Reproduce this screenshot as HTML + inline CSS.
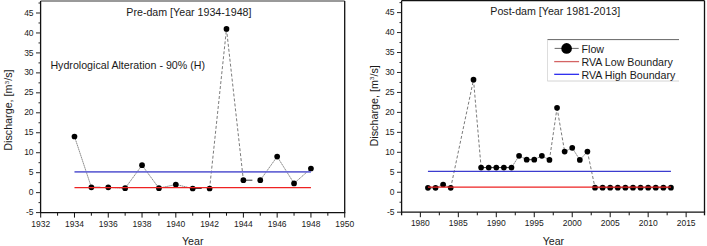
<!DOCTYPE html>
<html><head><meta charset="utf-8"><style>
html,body{margin:0;padding:0;background:#fff;}
svg{display:block;}
text{font-family:"Liberation Sans",sans-serif;fill:#1a1a1a;}
</style></head><body>
<svg width="707" height="246" viewBox="0 0 707 246">
<rect x="0" y="0" width="707" height="246" fill="#fff"/>
<line x1="74.48" y1="136.50" x2="91.37" y2="187.30" stroke="#3a3a3a" stroke-width="0.6" stroke-dasharray="1.6,0.5"/>
<line x1="91.37" y1="187.30" x2="108.26" y2="187.30" stroke="#111" stroke-width="0.85" stroke-dasharray="9,20"/>
<line x1="108.26" y1="187.30" x2="125.15" y2="188.20" stroke="#3a3a3a" stroke-width="0.6" stroke-dasharray="1.6,0.5"/>
<line x1="125.15" y1="188.20" x2="142.04" y2="165.20" stroke="#3a3a3a" stroke-width="0.6" stroke-dasharray="1.6,0.5"/>
<line x1="142.04" y1="165.20" x2="158.93" y2="188.20" stroke="#3a3a3a" stroke-width="0.6" stroke-dasharray="1.6,0.5"/>
<line x1="158.93" y1="188.20" x2="175.82" y2="184.50" stroke="#3a3a3a" stroke-width="0.6" stroke-dasharray="1.6,0.5"/>
<line x1="175.82" y1="184.50" x2="192.71" y2="188.50" stroke="#3a3a3a" stroke-width="0.6" stroke-dasharray="1.6,0.5"/>
<line x1="192.71" y1="188.50" x2="209.60" y2="188.50" stroke="#111" stroke-width="0.85" stroke-dasharray="9,20"/>
<line x1="209.60" y1="188.50" x2="226.49" y2="28.90" stroke="#333" stroke-width="0.65" stroke-dasharray="3,2"/>
<line x1="226.49" y1="28.90" x2="243.38" y2="180.20" stroke="#333" stroke-width="0.65" stroke-dasharray="3,2"/>
<line x1="243.38" y1="180.20" x2="260.27" y2="180.20" stroke="#111" stroke-width="0.85" stroke-dasharray="9,20"/>
<line x1="260.27" y1="180.20" x2="277.16" y2="156.60" stroke="#3a3a3a" stroke-width="0.6" stroke-dasharray="1.6,0.5"/>
<line x1="277.16" y1="156.60" x2="294.05" y2="183.40" stroke="#3a3a3a" stroke-width="0.6" stroke-dasharray="1.6,0.5"/>
<line x1="294.05" y1="183.40" x2="310.94" y2="168.50" stroke="#3a3a3a" stroke-width="0.6" stroke-dasharray="1.6,0.5"/>
<circle cx="74.48" cy="136.50" r="2.85" fill="#000"/>
<circle cx="91.37" cy="187.30" r="2.85" fill="#000"/>
<circle cx="108.26" cy="187.30" r="2.85" fill="#000"/>
<circle cx="125.15" cy="188.20" r="2.85" fill="#000"/>
<circle cx="142.04" cy="165.20" r="2.85" fill="#000"/>
<circle cx="158.93" cy="188.20" r="2.85" fill="#000"/>
<circle cx="175.82" cy="184.50" r="2.85" fill="#000"/>
<circle cx="192.71" cy="188.50" r="2.85" fill="#000"/>
<circle cx="209.60" cy="188.50" r="2.85" fill="#000"/>
<circle cx="226.49" cy="28.90" r="2.85" fill="#000"/>
<circle cx="243.38" cy="180.20" r="2.85" fill="#000"/>
<circle cx="260.27" cy="180.20" r="2.85" fill="#000"/>
<circle cx="277.16" cy="156.60" r="2.85" fill="#000"/>
<circle cx="294.05" cy="183.40" r="2.85" fill="#000"/>
<circle cx="310.94" cy="168.50" r="2.85" fill="#000"/>
<line x1="74.48" y1="171.9" x2="310.94" y2="171.9" stroke="#6a6ad6" stroke-width="1.6"/>
<line x1="74.48" y1="187.7" x2="310.94" y2="187.7" stroke="#ee2222" stroke-width="1.3"/>
<line x1="40.6" y1="1.024000000000001" x2="344.7" y2="1.024000000000001" stroke="#777" stroke-width="1.3"/>
<line x1="40.6" y1="1.024000000000001" x2="40.6" y2="212.6" stroke="#111" stroke-width="1.3"/>
<line x1="344.7" y1="1.024000000000001" x2="344.7" y2="212.6" stroke="#111" stroke-width="1.3"/>
<line x1="39.95" y1="212.6" x2="345.34999999999997" y2="212.6" stroke="#111" stroke-width="1.3"/>
<line x1="36.00" y1="212.60" x2="40.60" y2="212.60" stroke="#1a1a1a" stroke-width="0.95"/>
<text x="33.60" y="215.20" text-anchor="end" font-size="8.5">-5</text>
<line x1="36.00" y1="192.64" x2="40.60" y2="192.64" stroke="#1a1a1a" stroke-width="0.95"/>
<text x="33.60" y="195.24" text-anchor="end" font-size="8.5">0</text>
<line x1="36.00" y1="172.68" x2="40.60" y2="172.68" stroke="#1a1a1a" stroke-width="0.95"/>
<text x="33.60" y="175.28" text-anchor="end" font-size="8.5">5</text>
<line x1="36.00" y1="152.72" x2="40.60" y2="152.72" stroke="#1a1a1a" stroke-width="0.95"/>
<text x="33.60" y="155.32" text-anchor="end" font-size="8.5">10</text>
<line x1="36.00" y1="132.76" x2="40.60" y2="132.76" stroke="#1a1a1a" stroke-width="0.95"/>
<text x="33.60" y="135.36" text-anchor="end" font-size="8.5">15</text>
<line x1="36.00" y1="112.80" x2="40.60" y2="112.80" stroke="#1a1a1a" stroke-width="0.95"/>
<text x="33.60" y="115.40" text-anchor="end" font-size="8.5">20</text>
<line x1="36.00" y1="92.84" x2="40.60" y2="92.84" stroke="#1a1a1a" stroke-width="0.95"/>
<text x="33.60" y="95.44" text-anchor="end" font-size="8.5">25</text>
<line x1="36.00" y1="72.88" x2="40.60" y2="72.88" stroke="#1a1a1a" stroke-width="0.95"/>
<text x="33.60" y="75.48" text-anchor="end" font-size="8.5">30</text>
<line x1="36.00" y1="52.92" x2="40.60" y2="52.92" stroke="#1a1a1a" stroke-width="0.95"/>
<text x="33.60" y="55.52" text-anchor="end" font-size="8.5">35</text>
<line x1="36.00" y1="32.96" x2="40.60" y2="32.96" stroke="#1a1a1a" stroke-width="0.95"/>
<text x="33.60" y="35.56" text-anchor="end" font-size="8.5">40</text>
<line x1="36.00" y1="13.00" x2="40.60" y2="13.00" stroke="#1a1a1a" stroke-width="0.95"/>
<text x="33.60" y="15.60" text-anchor="end" font-size="8.5">45</text>
<line x1="38.50" y1="202.62" x2="40.60" y2="202.62" stroke="#1a1a1a" stroke-width="0.95"/>
<line x1="38.50" y1="182.66" x2="40.60" y2="182.66" stroke="#1a1a1a" stroke-width="0.95"/>
<line x1="38.50" y1="162.70" x2="40.60" y2="162.70" stroke="#1a1a1a" stroke-width="0.95"/>
<line x1="38.50" y1="142.74" x2="40.60" y2="142.74" stroke="#1a1a1a" stroke-width="0.95"/>
<line x1="38.50" y1="122.78" x2="40.60" y2="122.78" stroke="#1a1a1a" stroke-width="0.95"/>
<line x1="38.50" y1="102.82" x2="40.60" y2="102.82" stroke="#1a1a1a" stroke-width="0.95"/>
<line x1="38.50" y1="82.86" x2="40.60" y2="82.86" stroke="#1a1a1a" stroke-width="0.95"/>
<line x1="38.50" y1="62.90" x2="40.60" y2="62.90" stroke="#1a1a1a" stroke-width="0.95"/>
<line x1="38.50" y1="42.94" x2="40.60" y2="42.94" stroke="#1a1a1a" stroke-width="0.95"/>
<line x1="38.50" y1="22.98" x2="40.60" y2="22.98" stroke="#1a1a1a" stroke-width="0.95"/>
<line x1="38.50" y1="3.02" x2="40.60" y2="3.02" stroke="#1a1a1a" stroke-width="0.95"/>
<line x1="40.70" y1="212.60" x2="40.70" y2="217.60" stroke="#111" stroke-width="1"/>
<text x="40.70" y="227.00" text-anchor="middle" font-size="8.5">1932</text>
<line x1="74.48" y1="212.60" x2="74.48" y2="217.60" stroke="#111" stroke-width="1"/>
<text x="74.48" y="227.00" text-anchor="middle" font-size="8.5">1934</text>
<line x1="108.26" y1="212.60" x2="108.26" y2="217.60" stroke="#111" stroke-width="1"/>
<text x="108.26" y="227.00" text-anchor="middle" font-size="8.5">1936</text>
<line x1="142.04" y1="212.60" x2="142.04" y2="217.60" stroke="#111" stroke-width="1"/>
<text x="142.04" y="227.00" text-anchor="middle" font-size="8.5">1938</text>
<line x1="175.82" y1="212.60" x2="175.82" y2="217.60" stroke="#111" stroke-width="1"/>
<text x="175.82" y="227.00" text-anchor="middle" font-size="8.5">1940</text>
<line x1="209.60" y1="212.60" x2="209.60" y2="217.60" stroke="#111" stroke-width="1"/>
<text x="209.60" y="227.00" text-anchor="middle" font-size="8.5">1942</text>
<line x1="243.38" y1="212.60" x2="243.38" y2="217.60" stroke="#111" stroke-width="1"/>
<text x="243.38" y="227.00" text-anchor="middle" font-size="8.5">1944</text>
<line x1="277.16" y1="212.60" x2="277.16" y2="217.60" stroke="#111" stroke-width="1"/>
<text x="277.16" y="227.00" text-anchor="middle" font-size="8.5">1946</text>
<line x1="310.94" y1="212.60" x2="310.94" y2="217.60" stroke="#111" stroke-width="1"/>
<text x="310.94" y="227.00" text-anchor="middle" font-size="8.5">1948</text>
<line x1="344.72" y1="212.60" x2="344.72" y2="217.60" stroke="#111" stroke-width="1"/>
<text x="344.72" y="227.00" text-anchor="middle" font-size="8.5">1950</text>
<line x1="57.59" y1="212.60" x2="57.59" y2="215.70" stroke="#111" stroke-width="1"/>
<line x1="91.37" y1="212.60" x2="91.37" y2="215.70" stroke="#111" stroke-width="1"/>
<line x1="125.15" y1="212.60" x2="125.15" y2="215.70" stroke="#111" stroke-width="1"/>
<line x1="158.93" y1="212.60" x2="158.93" y2="215.70" stroke="#111" stroke-width="1"/>
<line x1="192.71" y1="212.60" x2="192.71" y2="215.70" stroke="#111" stroke-width="1"/>
<line x1="226.49" y1="212.60" x2="226.49" y2="215.70" stroke="#111" stroke-width="1"/>
<line x1="260.27" y1="212.60" x2="260.27" y2="215.70" stroke="#111" stroke-width="1"/>
<line x1="294.05" y1="212.60" x2="294.05" y2="215.70" stroke="#111" stroke-width="1"/>
<line x1="327.83" y1="212.60" x2="327.83" y2="215.70" stroke="#111" stroke-width="1"/>
<text x="126.3" y="15.6" font-size="10.67">Pre-dam [Year 1934-1948]</text>
<text x="50.4" y="69.1" font-size="10.67">Hydrological Alteration - 90% (H)</text>
<text x="192.7" y="245.3" text-anchor="middle" font-size="10.67">Year</text>
<text transform="translate(12.2,110.1) rotate(-90) scale(1.008,0.95)" text-anchor="middle" font-size="10.67">Discharge, [m<tspan font-size="6.5" dy="-3.8">3</tspan><tspan dy="3.8">/s]</tspan></text>
<line x1="427.94" y1="187.80" x2="435.54" y2="187.80" stroke="#111" stroke-width="0.85" stroke-dasharray="9,20"/>
<line x1="435.54" y1="187.80" x2="443.13" y2="184.50" stroke="#3a3a3a" stroke-width="0.6" stroke-dasharray="1.6,0.5"/>
<line x1="443.13" y1="184.50" x2="450.73" y2="187.80" stroke="#3a3a3a" stroke-width="0.6" stroke-dasharray="1.6,0.5"/>
<line x1="450.73" y1="187.80" x2="473.51" y2="79.70" stroke="#333" stroke-width="0.65" stroke-dasharray="3,2"/>
<line x1="473.51" y1="79.70" x2="481.10" y2="167.60" stroke="#333" stroke-width="0.65" stroke-dasharray="3,2"/>
<line x1="481.10" y1="167.60" x2="488.70" y2="167.60" stroke="#111" stroke-width="0.85" stroke-dasharray="9,20"/>
<line x1="488.70" y1="167.60" x2="496.29" y2="167.60" stroke="#111" stroke-width="0.85" stroke-dasharray="9,20"/>
<line x1="496.29" y1="167.60" x2="503.88" y2="167.60" stroke="#111" stroke-width="0.85" stroke-dasharray="9,20"/>
<line x1="503.88" y1="167.60" x2="511.48" y2="167.60" stroke="#111" stroke-width="0.85" stroke-dasharray="9,20"/>
<line x1="511.48" y1="167.60" x2="519.07" y2="155.80" stroke="#3a3a3a" stroke-width="0.6" stroke-dasharray="1.6,0.5"/>
<line x1="519.07" y1="155.80" x2="526.67" y2="159.70" stroke="#3a3a3a" stroke-width="0.6" stroke-dasharray="1.6,0.5"/>
<line x1="526.67" y1="159.70" x2="534.26" y2="159.70" stroke="#111" stroke-width="0.85" stroke-dasharray="9,20"/>
<line x1="534.26" y1="159.70" x2="541.85" y2="155.80" stroke="#3a3a3a" stroke-width="0.6" stroke-dasharray="1.6,0.5"/>
<line x1="541.85" y1="155.80" x2="549.45" y2="159.90" stroke="#3a3a3a" stroke-width="0.6" stroke-dasharray="1.6,0.5"/>
<line x1="549.45" y1="159.90" x2="557.04" y2="107.80" stroke="#333" stroke-width="0.65" stroke-dasharray="3,2"/>
<line x1="557.04" y1="107.80" x2="564.64" y2="151.60" stroke="#333" stroke-width="0.65" stroke-dasharray="3,2"/>
<line x1="564.64" y1="151.60" x2="572.23" y2="147.80" stroke="#3a3a3a" stroke-width="0.6" stroke-dasharray="1.6,0.5"/>
<line x1="572.23" y1="147.80" x2="579.82" y2="159.90" stroke="#3a3a3a" stroke-width="0.6" stroke-dasharray="1.6,0.5"/>
<line x1="579.82" y1="159.90" x2="587.42" y2="151.60" stroke="#3a3a3a" stroke-width="0.6" stroke-dasharray="1.6,0.5"/>
<line x1="587.42" y1="151.60" x2="595.01" y2="187.70" stroke="#333" stroke-width="0.65" stroke-dasharray="3,2"/>
<line x1="595.01" y1="187.70" x2="602.61" y2="187.70" stroke="#111" stroke-width="0.85" stroke-dasharray="9,20"/>
<line x1="602.61" y1="187.70" x2="610.20" y2="187.70" stroke="#111" stroke-width="0.85" stroke-dasharray="9,20"/>
<line x1="610.20" y1="187.70" x2="617.79" y2="187.70" stroke="#111" stroke-width="0.85" stroke-dasharray="9,20"/>
<line x1="617.79" y1="187.70" x2="625.39" y2="187.70" stroke="#111" stroke-width="0.85" stroke-dasharray="9,20"/>
<line x1="625.39" y1="187.70" x2="632.98" y2="187.70" stroke="#111" stroke-width="0.85" stroke-dasharray="9,20"/>
<line x1="632.98" y1="187.70" x2="640.58" y2="187.70" stroke="#111" stroke-width="0.85" stroke-dasharray="9,20"/>
<line x1="640.58" y1="187.70" x2="648.17" y2="187.70" stroke="#111" stroke-width="0.85" stroke-dasharray="9,20"/>
<line x1="648.17" y1="187.70" x2="655.76" y2="187.70" stroke="#111" stroke-width="0.85" stroke-dasharray="9,20"/>
<line x1="655.76" y1="187.70" x2="663.36" y2="187.70" stroke="#111" stroke-width="0.85" stroke-dasharray="9,20"/>
<line x1="663.36" y1="187.70" x2="670.95" y2="187.70" stroke="#111" stroke-width="0.85" stroke-dasharray="9,20"/>
<circle cx="427.94" cy="187.80" r="2.85" fill="#000"/>
<circle cx="435.54" cy="187.80" r="2.85" fill="#000"/>
<circle cx="443.13" cy="184.50" r="2.85" fill="#000"/>
<circle cx="450.73" cy="187.80" r="2.85" fill="#000"/>
<circle cx="473.51" cy="79.70" r="2.85" fill="#000"/>
<circle cx="481.10" cy="167.60" r="2.85" fill="#000"/>
<circle cx="488.70" cy="167.60" r="2.85" fill="#000"/>
<circle cx="496.29" cy="167.60" r="2.85" fill="#000"/>
<circle cx="503.88" cy="167.60" r="2.85" fill="#000"/>
<circle cx="511.48" cy="167.60" r="2.85" fill="#000"/>
<circle cx="519.07" cy="155.80" r="2.85" fill="#000"/>
<circle cx="526.67" cy="159.70" r="2.85" fill="#000"/>
<circle cx="534.26" cy="159.70" r="2.85" fill="#000"/>
<circle cx="541.85" cy="155.80" r="2.85" fill="#000"/>
<circle cx="549.45" cy="159.90" r="2.85" fill="#000"/>
<circle cx="557.04" cy="107.80" r="2.85" fill="#000"/>
<circle cx="564.64" cy="151.60" r="2.85" fill="#000"/>
<circle cx="572.23" cy="147.80" r="2.85" fill="#000"/>
<circle cx="579.82" cy="159.90" r="2.85" fill="#000"/>
<circle cx="587.42" cy="151.60" r="2.85" fill="#000"/>
<circle cx="595.01" cy="187.70" r="2.85" fill="#000"/>
<circle cx="602.61" cy="187.70" r="2.85" fill="#000"/>
<circle cx="610.20" cy="187.70" r="2.85" fill="#000"/>
<circle cx="617.79" cy="187.70" r="2.85" fill="#000"/>
<circle cx="625.39" cy="187.70" r="2.85" fill="#000"/>
<circle cx="632.98" cy="187.70" r="2.85" fill="#000"/>
<circle cx="640.58" cy="187.70" r="2.85" fill="#000"/>
<circle cx="648.17" cy="187.70" r="2.85" fill="#000"/>
<circle cx="655.76" cy="187.70" r="2.85" fill="#000"/>
<circle cx="663.36" cy="187.70" r="2.85" fill="#000"/>
<circle cx="670.95" cy="187.70" r="2.85" fill="#000"/>
<line x1="427.94" y1="171.3" x2="670.95" y2="171.3" stroke="#3c3ccf" stroke-width="1.3"/>
<line x1="427.94" y1="187.1" x2="670.95" y2="187.1" stroke="#ee2222" stroke-width="1.3"/>
<line x1="401.6" y1="0.6239999999999952" x2="704.5" y2="0.6239999999999952" stroke="#111" stroke-width="1.3"/>
<line x1="401.6" y1="0.6239999999999952" x2="401.6" y2="212.2" stroke="#111" stroke-width="1.3"/>
<line x1="704.5" y1="0.6239999999999952" x2="704.5" y2="212.2" stroke="#111" stroke-width="1.3"/>
<line x1="400.95000000000005" y1="212.2" x2="705.15" y2="212.2" stroke="#111" stroke-width="1.3"/>
<line x1="397.00" y1="212.20" x2="401.60" y2="212.20" stroke="#1a1a1a" stroke-width="0.95"/>
<text x="394.60" y="214.80" text-anchor="end" font-size="8.5">-5</text>
<line x1="397.00" y1="192.24" x2="401.60" y2="192.24" stroke="#1a1a1a" stroke-width="0.95"/>
<text x="394.60" y="194.84" text-anchor="end" font-size="8.5">0</text>
<line x1="397.00" y1="172.28" x2="401.60" y2="172.28" stroke="#1a1a1a" stroke-width="0.95"/>
<text x="394.60" y="174.88" text-anchor="end" font-size="8.5">5</text>
<line x1="397.00" y1="152.32" x2="401.60" y2="152.32" stroke="#1a1a1a" stroke-width="0.95"/>
<text x="394.60" y="154.92" text-anchor="end" font-size="8.5">10</text>
<line x1="397.00" y1="132.36" x2="401.60" y2="132.36" stroke="#1a1a1a" stroke-width="0.95"/>
<text x="394.60" y="134.96" text-anchor="end" font-size="8.5">15</text>
<line x1="397.00" y1="112.40" x2="401.60" y2="112.40" stroke="#1a1a1a" stroke-width="0.95"/>
<text x="394.60" y="115.00" text-anchor="end" font-size="8.5">20</text>
<line x1="397.00" y1="92.44" x2="401.60" y2="92.44" stroke="#1a1a1a" stroke-width="0.95"/>
<text x="394.60" y="95.04" text-anchor="end" font-size="8.5">25</text>
<line x1="397.00" y1="72.48" x2="401.60" y2="72.48" stroke="#1a1a1a" stroke-width="0.95"/>
<text x="394.60" y="75.08" text-anchor="end" font-size="8.5">30</text>
<line x1="397.00" y1="52.52" x2="401.60" y2="52.52" stroke="#1a1a1a" stroke-width="0.95"/>
<text x="394.60" y="55.12" text-anchor="end" font-size="8.5">35</text>
<line x1="397.00" y1="32.56" x2="401.60" y2="32.56" stroke="#1a1a1a" stroke-width="0.95"/>
<text x="394.60" y="35.16" text-anchor="end" font-size="8.5">40</text>
<line x1="397.00" y1="12.60" x2="401.60" y2="12.60" stroke="#1a1a1a" stroke-width="0.95"/>
<text x="394.60" y="15.20" text-anchor="end" font-size="8.5">45</text>
<line x1="399.50" y1="202.22" x2="401.60" y2="202.22" stroke="#1a1a1a" stroke-width="0.95"/>
<line x1="399.50" y1="182.26" x2="401.60" y2="182.26" stroke="#1a1a1a" stroke-width="0.95"/>
<line x1="399.50" y1="162.30" x2="401.60" y2="162.30" stroke="#1a1a1a" stroke-width="0.95"/>
<line x1="399.50" y1="142.34" x2="401.60" y2="142.34" stroke="#1a1a1a" stroke-width="0.95"/>
<line x1="399.50" y1="122.38" x2="401.60" y2="122.38" stroke="#1a1a1a" stroke-width="0.95"/>
<line x1="399.50" y1="102.42" x2="401.60" y2="102.42" stroke="#1a1a1a" stroke-width="0.95"/>
<line x1="399.50" y1="82.46" x2="401.60" y2="82.46" stroke="#1a1a1a" stroke-width="0.95"/>
<line x1="399.50" y1="62.50" x2="401.60" y2="62.50" stroke="#1a1a1a" stroke-width="0.95"/>
<line x1="399.50" y1="42.54" x2="401.60" y2="42.54" stroke="#1a1a1a" stroke-width="0.95"/>
<line x1="399.50" y1="22.58" x2="401.60" y2="22.58" stroke="#1a1a1a" stroke-width="0.95"/>
<line x1="399.50" y1="2.62" x2="401.60" y2="2.62" stroke="#1a1a1a" stroke-width="0.95"/>
<line x1="420.35" y1="212.20" x2="420.35" y2="217.20" stroke="#111" stroke-width="1"/>
<text x="420.35" y="226.40" text-anchor="middle" font-size="8.5">1980</text>
<line x1="458.32" y1="212.20" x2="458.32" y2="217.20" stroke="#111" stroke-width="1"/>
<text x="458.32" y="226.40" text-anchor="middle" font-size="8.5">1985</text>
<line x1="496.29" y1="212.20" x2="496.29" y2="217.20" stroke="#111" stroke-width="1"/>
<text x="496.29" y="226.40" text-anchor="middle" font-size="8.5">1990</text>
<line x1="534.26" y1="212.20" x2="534.26" y2="217.20" stroke="#111" stroke-width="1"/>
<text x="534.26" y="226.40" text-anchor="middle" font-size="8.5">1995</text>
<line x1="572.23" y1="212.20" x2="572.23" y2="217.20" stroke="#111" stroke-width="1"/>
<text x="572.23" y="226.40" text-anchor="middle" font-size="8.5">2000</text>
<line x1="610.20" y1="212.20" x2="610.20" y2="217.20" stroke="#111" stroke-width="1"/>
<text x="610.20" y="226.40" text-anchor="middle" font-size="8.5">2005</text>
<line x1="648.17" y1="212.20" x2="648.17" y2="217.20" stroke="#111" stroke-width="1"/>
<text x="648.17" y="226.40" text-anchor="middle" font-size="8.5">2010</text>
<line x1="686.14" y1="212.20" x2="686.14" y2="217.20" stroke="#111" stroke-width="1"/>
<text x="686.14" y="226.40" text-anchor="middle" font-size="8.5">2015</text>
<line x1="439.34" y1="212.20" x2="439.34" y2="215.30" stroke="#111" stroke-width="1"/>
<line x1="477.31" y1="212.20" x2="477.31" y2="215.30" stroke="#111" stroke-width="1"/>
<line x1="515.27" y1="212.20" x2="515.27" y2="215.30" stroke="#111" stroke-width="1"/>
<line x1="553.25" y1="212.20" x2="553.25" y2="215.30" stroke="#111" stroke-width="1"/>
<line x1="591.22" y1="212.20" x2="591.22" y2="215.30" stroke="#111" stroke-width="1"/>
<line x1="629.19" y1="212.20" x2="629.19" y2="215.30" stroke="#111" stroke-width="1"/>
<line x1="667.15" y1="212.20" x2="667.15" y2="215.30" stroke="#111" stroke-width="1"/>
<line x1="401.6" y1="212.20" x2="401.6" y2="215.30" stroke="#111" stroke-width="1.3"/>
<line x1="704.5" y1="212.20" x2="704.5" y2="215.30" stroke="#111" stroke-width="1.3"/>
<text x="490.3" y="14.7" font-size="10.67">Post-dam [Year 1981-2013]</text>
<text x="553.4" y="244.6" text-anchor="middle" font-size="10.67">Year</text>
<text transform="translate(377.5,105.8) rotate(-90) scale(1.008,0.95)" text-anchor="middle" font-size="10.67">Discharge, [m<tspan font-size="6.5" dy="-3.8">3</tspan><tspan dy="3.8">/s]</tspan></text>
<line x1="547.3" y1="39.6" x2="679" y2="39.6" stroke="#666" stroke-width="1"/>
<line x1="547.5" y1="39.6" x2="547.5" y2="81" stroke="#ddd" stroke-width="1"/>
<line x1="547.3" y1="81" x2="679" y2="81" stroke="#d4d4d4" stroke-width="1"/>
<line x1="554.6" y1="48.4" x2="578.7" y2="48.4" stroke="#444" stroke-width="0.8"/>
<circle cx="566.6" cy="48.4" r="5.3" fill="#000"/>
<text x="581.5" y="52.5" font-size="10.67">Flow</text>
<line x1="554.2" y1="61.6" x2="579.1" y2="61.6" stroke="#d46464" stroke-width="1.3"/>
<text x="581.5" y="65.9" font-size="10.67">RVA Low Boundary</text>
<line x1="554.2" y1="74.3" x2="579.1" y2="74.3" stroke="#1a1aee" stroke-width="1.2"/>
<text x="581.5" y="78.8" font-size="10.67">RVA High Boundary</text>
</svg>
</body></html>
